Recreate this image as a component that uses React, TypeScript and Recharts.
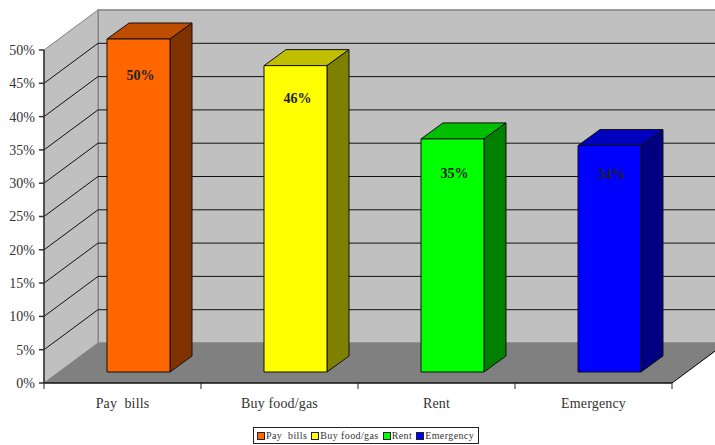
import { Bar, BarChart, LabelList, Legend, XAxis, YAxis } from "recharts";

const categories = ["Pay  bills", "Buy food/gas", "Rent", "Emergency"];
const shares = [50, 46, 35, 34];
const yTicks = [0, 5, 10, 15, 20, 25, 30, 35, 40, 45, 50];

const frontColors = ["#FF6600", "#FFFF00", "#00FF00", "#0000FF"];
const topColors = ["#BF4D00", "#BFBF00", "#00BF00", "#0000BF"];
const sideColors = ["#803300", "#808000", "#008000", "#000080"];

const data = categories.map((name, i) => ({ name, share: shares[i] }));

const WIDTH = 715;
const HEIGHT = 445;
const LEFT = 44;
const RIGHT = 672;
const TOP = 50;
const BOTTOM = 383;
const Y_MAX = 50;

// room depth of the walls and floor
const ROOM_DX = 54;
const ROOM_DY = 40;
// where the bars stand inside the room, and how deep they are
const BAR_SHIFT_X = 16;
const BAR_SHIFT_Y = 11;
const BAR_DX = 22;
const BAR_DY = 16;
const LABEL_DROP = [36, 32, 34, 28];

const FONT = '"Liberation Serif", serif';
const TEXT = "#333";

const yOf = (v: number) => BOTTOM - (v / Y_MAX) * (BOTTOM - TOP);
const pts = (list: number[][]) => list.map((p) => p.join(",")).join(" ");

function Room() {
  const backL = LEFT + ROOM_DX;
  const backR = RIGHT + ROOM_DX;
  return (
    <g>
      <polygon
        points={pts([
          [backL, yOf(Y_MAX) - ROOM_DY],
          [backR, yOf(Y_MAX) - ROOM_DY],
          [backR, BOTTOM - ROOM_DY],
          [backL, BOTTOM - ROOM_DY],
        ])}
        fill="#C0C0C0"
        stroke="#808080"
        strokeWidth={1.5}
      />
      <polygon
        points={pts([
          [LEFT, TOP],
          [backL, TOP - ROOM_DY],
          [backL, BOTTOM - ROOM_DY],
          [LEFT, BOTTOM],
        ])}
        fill="#C0C0C0"
        stroke="#808080"
      />
      <polygon
        points={pts([
          [LEFT, BOTTOM],
          [backL, BOTTOM - ROOM_DY],
          [backR, BOTTOM - ROOM_DY],
          [RIGHT, BOTTOM],
        ])}
        fill="#808080"
      />
      <line x1={RIGHT} y1={BOTTOM} x2={backR} y2={BOTTOM - ROOM_DY} stroke="#000" />
      {yTicks
        .filter((t) => t > 0 && t < Y_MAX)
        .map((t) => (
          <g key={t} stroke="#111" fill="none">
            <polyline
              points={pts([
                [LEFT, yOf(t)],
                [backL, yOf(t) - ROOM_DY],
                [backR, yOf(t) - ROOM_DY],
              ])}
            />
          </g>
        ))}
    </g>
  );
}

function Bar3D(props: any) {
  const { x, y, width, height, index } = props;
  const l = x + BAR_SHIFT_X;
  const r = l + width;
  const t = y - BAR_SHIFT_Y;
  const b = t + height;
  return (
    <g stroke="#111" strokeWidth={1} strokeLinejoin="round">
      <polygon
        points={pts([
          [l, t],
          [l + BAR_DX, t - BAR_DY],
          [r + BAR_DX, t - BAR_DY],
          [r, t],
        ])}
        fill={topColors[index]}
      />
      <polygon
        points={pts([
          [r, t],
          [r + BAR_DX, t - BAR_DY],
          [r + BAR_DX, b - BAR_DY],
          [r, b],
        ])}
        fill={sideColors[index]}
      />
      <rect x={l} y={t} width={width} height={height} fill={frontColors[index]} />
    </g>
  );
}

function BarValue(props: any) {
  const { x, y, width, value, index } = props;
  return (
    <text
      x={x + BAR_SHIFT_X + width / 2 + 2}
      y={y - BAR_SHIFT_Y + LABEL_DROP[index] + 5}
      textAnchor="middle"
      fontFamily={FONT}
      fontSize={14}
      fontWeight="bold"
      fill="#222"
    >
      {value}%
    </text>
  );
}

function CategoryTick(props: any) {
  const { x, payload, index } = props;
  const band = (RIGHT - LEFT) / categories.length;
  const edges = index === categories.length - 1 ? [x - band / 2, x + band / 2] : [x - band / 2];
  return (
    <g>
      {edges.map((ex) => (
        <line key={ex} x1={ex} x2={ex} y1={BOTTOM} y2={BOTTOM + 6} stroke="#222" />
      ))}
      <text
        x={x}
        y={BOTTOM + 25}
        textAnchor="middle"
        fontFamily={FONT}
        fontSize={14}
        fill={TEXT}
        letterSpacing={0.15}
        style={{ whiteSpace: "pre" }}
      >
        {payload.value}
      </text>
    </g>
  );
}

function LegendBox() {
  return (
    <div
      style={{
        position: "absolute",
        left: 253,
        top: 427,
        width: 226,
        height: 17,
        boxSizing: "border-box",
        border: "1px solid #222",
        background: "#fff",
        display: "flex",
        alignItems: "center",
        gap: 4,
        paddingLeft: 3,
        fontFamily: FONT,
        fontSize: 10,
        color: TEXT,
        whiteSpace: "pre",
      }}
    >
      {categories.map((name, i) => (
        <span key={name} style={{ display: "flex", alignItems: "center", gap: 1 }}>
          <span
            style={{
              width: 8,
              height: 8,
              boxSizing: "border-box",
              border: "1px solid #222",
              background: frontColors[i],
            }}
          />
          <span style={{ letterSpacing: 0.4 }}>{name}</span>
        </span>
      ))}
    </div>
  );
}

export default function App() {
  return (
    <div style={{ position: "absolute", left: 0, top: 0, width: WIDTH, height: HEIGHT, overflow: "hidden" }}>
      <BarChart
        width={WIDTH}
        height={HEIGHT}
        data={data}
        margin={{ top: TOP, right: WIDTH - RIGHT, bottom: HEIGHT - BOTTOM - 40, left: 0 }}
      >
        <Room />
        <XAxis
          dataKey="name"
          height={40}
          axisLine={{ stroke: "#111", strokeWidth: 1.5 }}
          tickLine={false}
          tick={<CategoryTick />}
          interval={0}
        />
        <YAxis
          width={LEFT}
          domain={[0, Y_MAX]}
          ticks={yTicks}
          interval={0}
          tickFormatter={(v: number) => `${v}%`}
          axisLine={{ stroke: "#333", strokeWidth: 1.5 }}
          tickLine={{ stroke: "#333", strokeWidth: 1.5 }}
          tickSize={5}
          tickMargin={4}
          tick={{ fontFamily: FONT, fontSize: 14, fill: TEXT }}
        />
        <Bar dataKey="share" barSize={63} isAnimationActive={false} shape={<Bar3D />}>
          <LabelList dataKey="share" content={<BarValue />} />
        </Bar>
        <Legend content={<LegendBox />} wrapperStyle={{ position: "static" }} />
      </BarChart>
    </div>
  );
}
